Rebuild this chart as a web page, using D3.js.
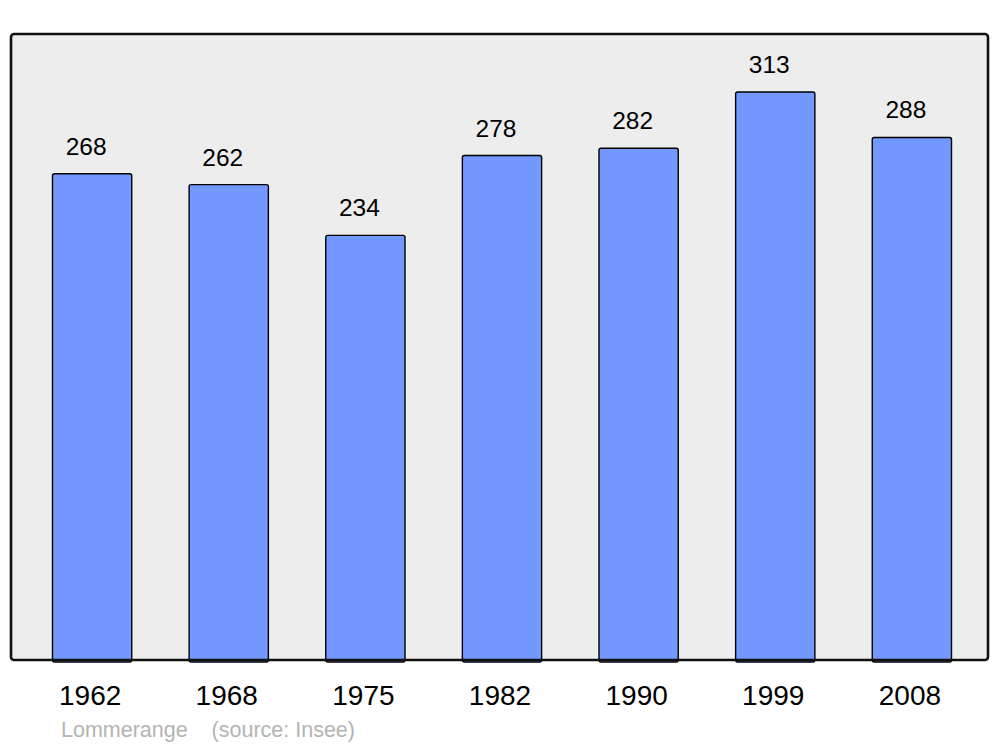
<!DOCTYPE html>
<html>
<head>
<meta charset="utf-8">
<script src="https://cdn.jsdelivr.net/npm/d3@7"></script>
<style>
  body { margin: 0; background: #fff; }
  text { font-family: "Liberation Sans", Arial, sans-serif; }
</style>
</head>
<body>
<div id="chart"></div>
<script>
// population data, Lommerange
var years = ["1962", "1968", "1975", "1982", "1990", "1999", "2008"];
var population = [268, 262, 234, 278, 282, 313, 288];
var yMax = 345;
var caption = "Lommerange    (source: Insee)";

var width = 1000, height = 747;
var panel = {left: 11, top: 34, right: 988, bottom: 660};

var svg = d3.select("#chart")
    .append("svg")
    .attr("width", width)
    .attr("height", height);

var x = d3.scaleBand()
    .domain(years)
    .range([52.5, 951.5])
    .paddingInner(0.42)
    .paddingOuter(0);

var y = d3.scaleLinear()
    .domain([0, yMax])
    .range([panel.bottom, panel.top]);

var data = years.map(function(d, i) { return {year: d, value: population[i]}; });

// background panel
svg.append("rect")
    .attr("x", panel.left)
    .attr("y", panel.top)
    .attr("width", panel.right - panel.left)
    .attr("height", panel.bottom - panel.top)
    .attr("rx", 3)
    .style("fill", "#ededed");

svg.selectAll("rect.bar")
    .data(data)
    .enter()
    .append("rect")
    .attr("class", "bar")
    .attr("x", function(d) { return x(d.year); })
    .attr("y", function(d) { return y(d.value); })
    .attr("width", x.bandwidth())
    .attr("height", function(d) { return y(0) - y(d.value) + 2; })
    .attr("rx", 2)
    .style("fill", "#7399ff")
    .style("stroke", "#000")
    .style("stroke-width", 1.4);

// border on top of bars
svg.append("rect")
    .attr("x", panel.left)
    .attr("y", panel.top)
    .attr("width", panel.right - panel.left)
    .attr("height", panel.bottom - panel.top)
    .attr("rx", 3)
    .style("fill", "none")
    .style("stroke", "#111")
    .style("stroke-width", 2.6);

svg.selectAll("text.value")
    .data(data)
    .enter()
    .append("text")
    .attr("class", "value")
    .attr("x", function(d) { return x(d.year) + x.bandwidth() / 2 - 6; })
    .attr("y", function(d) { return y(d.value) - 19; })
    .attr("text-anchor", "middle")
    .style("font-size", "24.5px")
    .style("fill", "#000")
    .text(function(d) { return d.value; });

var xAxis = d3.axisBottom(x).tickSize(0).tickPadding(0);
var gx = svg.append("g")
    .attr("transform", "translate(0," + panel.bottom + ")")
    .call(xAxis);
gx.select(".domain").remove();
gx.selectAll("text")
    .attr("x", -2)
    .attr("y", 45)
    .attr("dy", 0)
    .style("font-size", "28px")
    .style("font-family", "'Liberation Sans', Arial, sans-serif")
    .style("fill", "#000");

svg.append("text")
    .attr("x", 61)
    .attr("y", 737)
    .style("font-size", "21.5px")
    .style("fill", "#b4b4b4")
    .style("white-space", "pre")
    .text(caption);
</script>
</body>
</html>
